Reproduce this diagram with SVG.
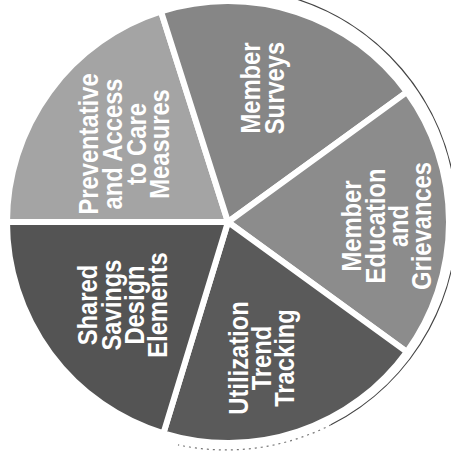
<svg xmlns="http://www.w3.org/2000/svg" width="451" height="458" viewBox="0 0 451 458">
<style>
.slice{stroke:#fff;stroke-width:6;stroke-linejoin:miter}
.lbl{font-family:"Liberation Sans",Arial,sans-serif;font-weight:bold;font-size:27px;fill:#fff;text-anchor:middle}
</style>
<rect width="451" height="458" fill="#fff"/>
<g id="outer-ring" fill="none">
<path d="M285.8,-4.1 A231,231 0 0 1 330.9,424.8" stroke="#444" stroke-width="1.2"/>
<path d="M330.9,424.8 A231,231 0 0 1 178,444.9" stroke="#777" stroke-width="1.2" stroke-dasharray="2 4"/>
</g>
<g id="connectors"></g>
<g id="preventative">
<path class="slice" fill="#a4a4a4" d="M228,222 L7,222 A221,221 0 0 1 161,11.5 Z"/>
<g transform="translate(98,144) rotate(-90) scale(0.88,1)">
<text class="lbl" x="0" y="0">Preventative</text>
<text class="lbl" x="0" y="24">and Access</text>
<text class="lbl" x="0" y="48">to Care</text>
<text class="lbl" x="0" y="71">Measures</text>
</g>
</g>
<g id="member-surveys">
<path class="slice" fill="#868686" d="M228,222 L161,11.5 A221,221 0 0 1 406.8,92.1 Z"/>
<g transform="translate(260,88) rotate(-90) scale(0.88,1)">
<text class="lbl" x="0" y="0">Member</text>
<text class="lbl" x="0" y="24">Surveys</text>
</g>
</g>
<g id="member-education">
<path class="slice" fill="#8c8c8c" d="M228,222 L406.8,92.1 A221,221 0 0 1 406.8,351.9 Z"/>
<g transform="translate(361,226) rotate(-90) scale(0.88,1)">
<text class="lbl" x="0" y="0">Member</text>
<text class="lbl" x="0" y="23.5">Education</text>
<text class="lbl" x="0" y="47">and</text>
<text class="lbl" x="0" y="70">Grievances</text>
</g>
</g>
<g id="utilization">
<path class="slice" fill="#5a5a5a" d="M228,222 L406.8,351.9 A221,221 0 0 1 163.4,433.3 Z"/>
<g transform="translate(248,358) rotate(-90) scale(0.88,1)">
<text class="lbl" x="0" y="0">Utilization</text>
<text class="lbl" x="0" y="23">Trend</text>
<text class="lbl" x="0" y="46">Tracking</text>
</g>
</g>
<g id="shared-savings">
<path class="slice" fill="#545454" d="M228,222 L163.4,433.3 A221,221 0 0 1 7,222 Z"/>
<g transform="translate(97,305) rotate(-90) scale(0.88,1)">
<text class="lbl" x="0" y="0">Shared</text>
<text class="lbl" x="0" y="23.5">Savings</text>
<text class="lbl" x="0" y="47">Design</text>
<text class="lbl" x="0" y="70">Elements</text>
</g>
</g>
</svg>
